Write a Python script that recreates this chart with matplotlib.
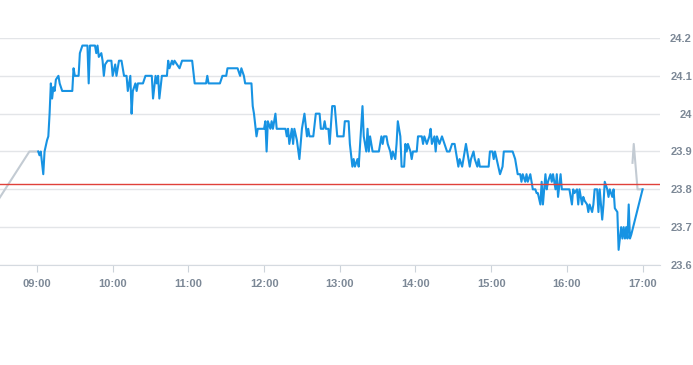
import matplotlib
matplotlib.use("Agg")
import matplotlib.pyplot as plt
from matplotlib.ticker import FuncFormatter

# minutes after 09:00 and price
minutes = [1, 2, 3, 5, 6, 8, 9, 10, 11, 12, 13, 14, 15, 17, 18, 20, 28, 29, 30, 33,
           34, 36, 40, 41, 42, 46, 47, 48, 49, 51, 52, 53, 54, 56, 59, 60, 62, 63, 65, 67,
           69, 71, 72, 74, 75, 76, 78, 79, 80, 84, 86, 91, 92, 94, 95, 96, 97, 99, 103, 104,
           105, 107, 108, 109, 113, 115, 123, 125, 134, 135, 136, 145, 147, 150, 151, 159, 161, 162, 164, 165,
           170, 171, 172, 174, 175, 180, 181, 182, 183, 185, 186, 187, 189, 190, 197, 198, 199, 200, 202, 203,
           204, 206, 208, 210, 212, 214, 215, 216, 219, 221, 224, 225, 227, 228, 229, 231, 232, 234, 236, 238,
           243, 244, 247, 248, 250, 251, 252, 254, 255, 258, 259, 261, 262, 263, 264, 266, 271, 273, 274, 275,
           277, 278, 280, 281, 282, 284, 285, 286, 288, 289, 291, 292, 293, 294, 296, 297, 298, 301, 302, 305,
           306, 307, 309, 311, 312, 313, 315, 316, 317, 319, 321, 323, 325, 327, 329, 331, 333, 334, 335, 337,
           338, 340, 342, 343, 344, 346, 347, 349, 350, 351, 358, 359, 361, 362, 363, 365, 367, 369, 370, 377,
           379, 380, 381, 383, 384, 385, 387, 388, 389, 391, 392, 393, 395, 396, 397, 399, 400, 401, 403, 404,
           405, 407, 408, 409, 411, 412, 413, 415, 416, 422, 424, 425, 426, 428, 429, 430, 432, 433, 434, 436,
           437, 438, 440, 441, 442, 444, 445, 446, 448, 449, 450, 452, 453, 454, 456, 457, 458, 460, 461, 463,
           464, 465, 466, 467, 468, 469, 470, 471, 480]
price = [23.90, 23.89, 23.90, 23.84, 23.90, 23.93, 23.94, 24.00, 24.08, 24.04, 24.07, 24.06, 24.09, 24.10, 24.08, 24.06, 24.06, 24.12, 24.10, 24.10,
         24.16, 24.18, 24.18, 24.08, 24.18, 24.18, 24.16, 24.18, 24.15, 24.16, 24.14, 24.10, 24.13, 24.14, 24.14, 24.10, 24.13, 24.10, 24.14, 24.14,
         24.10, 24.10, 24.06, 24.10, 24.00, 24.06, 24.08, 24.06, 24.08, 24.08, 24.10, 24.10, 24.04, 24.10, 24.08, 24.10, 24.04, 24.10, 24.10, 24.14,
         24.12, 24.14, 24.13, 24.14, 24.12, 24.14, 24.14, 24.08, 24.08, 24.10, 24.08, 24.08, 24.10, 24.10, 24.12, 24.12, 24.10, 24.12, 24.10, 24.08,
         24.08, 24.02, 24.00, 23.94, 23.96, 23.96, 23.98, 23.90, 23.98, 23.96, 23.98, 23.96, 24.00, 23.96, 23.96, 23.94, 23.96, 23.92, 23.96, 23.92,
         23.96, 23.93, 23.88, 23.96, 24.00, 23.94, 23.96, 23.94, 23.94, 24.00, 24.00, 23.96, 23.96, 23.98, 23.96, 23.96, 23.92, 24.02, 24.02, 23.94,
         23.94, 23.98, 23.98, 23.92, 23.86, 23.88, 23.86, 23.88, 23.86, 24.02, 23.94, 23.90, 23.96, 23.90, 23.94, 23.90, 23.90, 23.94, 23.92, 23.94,
         23.94, 23.92, 23.90, 23.88, 23.90, 23.88, 23.92, 23.98, 23.94, 23.86, 23.86, 23.92, 23.90, 23.92, 23.90, 23.88, 23.90, 23.90, 23.94, 23.94,
         23.92, 23.94, 23.92, 23.94, 23.96, 23.92, 23.94, 23.90, 23.94, 23.92, 23.94, 23.92, 23.90, 23.90, 23.92, 23.92, 23.88, 23.86, 23.88, 23.86,
         23.88, 23.92, 23.88, 23.86, 23.88, 23.90, 23.88, 23.86, 23.88, 23.86, 23.86, 23.90, 23.90, 23.88, 23.90, 23.87, 23.84, 23.86, 23.90, 23.90,
         23.88, 23.86, 23.84, 23.84, 23.82, 23.84, 23.82, 23.84, 23.82, 23.84, 23.82, 23.80, 23.80, 23.79, 23.79, 23.76, 23.82, 23.76, 23.84, 23.80,
         23.82, 23.84, 23.82, 23.84, 23.80, 23.84, 23.78, 23.84, 23.80, 23.80, 23.76, 23.80, 23.79, 23.80, 23.76, 23.80, 23.76, 23.78, 23.77, 23.76,
         23.74, 23.76, 23.74, 23.76, 23.80, 23.80, 23.74, 23.80, 23.72, 23.76, 23.82, 23.80, 23.78, 23.80, 23.78, 23.80, 23.75, 23.74, 23.64, 23.70,
         23.67, 23.70, 23.67, 23.70, 23.67, 23.76, 23.67, 23.68, 23.80]

# grey segments outside the session
pre_minutes = [-33, -6, 0]
pre_price = [23.76, 23.90, 23.90]
post_minutes = [472, 473, 476, 480]
post_price = [23.87, 23.92, 23.80, 23.80]

ref_price = 23.815
xtick_minutes = [0, 60, 120, 180, 240, 300, 360, 420, 480]
xtick_labels = ["09:00", "10:00", "11:00", "12:00", "13:00", "14:00", "15:00", "16:00", "17:00"]
yticks = [23.6, 23.7, 23.8, 23.9, 24.0, 24.1, 24.2]

plt.rcParams["font.family"] = ["Liberation Sans", "DejaVu Sans"]

fig = plt.figure(figsize=(6.93, 3.65), dpi=100)
ax = fig.add_axes([0, 100 / 365, 660 / 693, 227 / 365])

ax.plot(pre_minutes, pre_price, color="#c3cbd3", lw=1.5)
ax.plot(post_minutes, post_price, color="#c3cbd3", lw=1.5)
ax.plot(minutes, price, color="#1793e3", lw=1.5)
ax.axhline(ref_price, color="#e0413a", lw=1)

ax.set_xlim(-29.3, 493.8)
ax.set_ylim(23.6, 24.2)

for s in ax.spines.values():
    s.set_visible(False)
ax.spines["bottom"].set_visible(True)
ax.spines["bottom"].set_color("#d5dae0")
ax.grid(axis="y", color="#e3e5e8", lw=1)
ax.set_axisbelow(True)

ax.set_xticks(xtick_minutes)
ax.set_xticklabels(xtick_labels)
ax.tick_params(axis="x", length=5, color="#ccd3da", pad=5,
               labelsize=8, labelcolor="#7c8896")
for lab in ax.get_xticklabels():
    lab.set_fontweight("bold")

ax.yaxis.tick_right()
ax.set_yticks(yticks)
ax.yaxis.set_major_formatter(FuncFormatter(lambda v, p: f"{v:g}"))
ax.tick_params(axis="y", length=0, pad=23, labelsize=8, labelcolor="#7c8896")
for lab in ax.get_yticklabels():
    lab.set_horizontalalignment("right")
    lab.set_fontweight("bold")

fig.savefig("out.png", dpi=100)
